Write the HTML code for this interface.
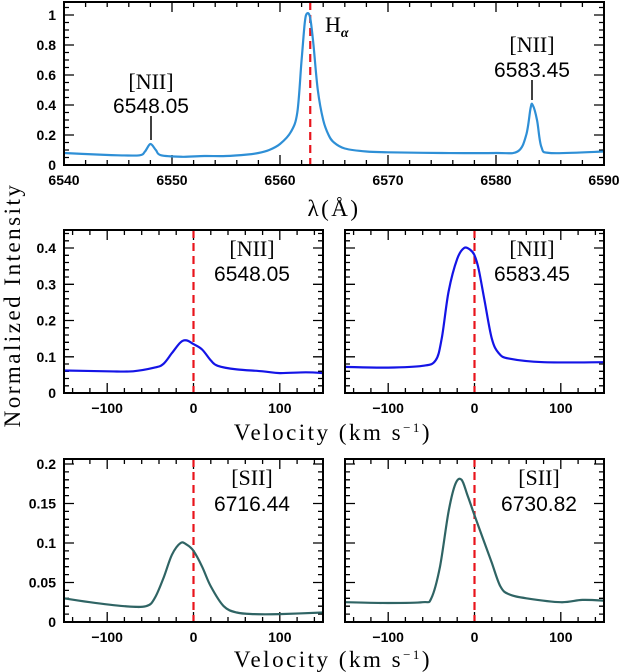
<!DOCTYPE html>
<html><head><meta charset="utf-8"><style>
body{margin:0;background:#fff;}
svg{display:block;}
.tk{font-family:"Liberation Sans",sans-serif;font-weight:bold;font-size:14px;}
.an{font-family:"Liberation Sans",sans-serif;font-size:21px;}
.sr{font-family:"Liberation Serif",serif;font-size:22px;}
.ax{font-family:"Liberation Serif",serif;font-size:23px;letter-spacing:2.5px;}
</style></head><body>
<svg id="fig" width="623" height="672" xmlns="http://www.w3.org/2000/svg"></svg>
<script>
const topWave=[6540,6543,6545,6547,6547.5,6548,6548.5,6549,6551,6553,6555,6557,6558,6559,6560,6561,6561.6,6562,6562.3,6562.5,6562.8,6563.1,6563.5,6564,6564.5,6565,6566,6568,6570,6575,6580,6582,6582.8,6583.2,6583.4,6583.8,6584.2,6585,6590];
const topFlux=[0.08,0.07,0.065,0.065,0.09,0.14,0.1,0.065,0.055,0.06,0.06,0.07,0.08,0.1,0.14,0.22,0.35,0.7,0.95,1.01,0.98,0.8,0.5,0.3,0.2,0.15,0.11,0.09,0.085,0.08,0.08,0.09,0.2,0.38,0.40,0.3,0.12,0.08,0.09];
const velNII1=[-150,-100,-70,-45,-35,-25,-15,-8,0,10,20,28,50,80,100,130,150];
const fluxNII1=[0.062,0.06,0.06,0.07,0.08,0.11,0.14,0.145,0.135,0.12,0.09,0.075,0.065,0.06,0.055,0.057,0.055];
const velNII2=[-150,-100,-60,-45,-38,-30,-20,-12,-5,0,5,12,20,28,40,80,150];
const fluxNII2=[0.072,0.07,0.075,0.09,0.15,0.28,0.37,0.40,0.395,0.38,0.34,0.25,0.15,0.11,0.095,0.085,0.085];
const velSII1=[-150,-120,-80,-55,-45,-35,-25,-15,-8,0,10,20,35,50,70,100,150];
const fluxSII1=[0.03,0.025,0.02,0.02,0.03,0.055,0.085,0.1,0.098,0.09,0.07,0.045,0.02,0.012,0.01,0.01,0.012];
const velSII2=[-150,-100,-60,-50,-40,-30,-22,-15,-8,0,10,20,30,40,60,100,125,150];
const fluxSII2=[0.025,0.024,0.025,0.03,0.07,0.14,0.175,0.18,0.16,0.135,0.105,0.075,0.045,0.035,0.03,0.025,0.028,0.027];
const topXTicks=[6540,6550,6560,6570,6580,6590];
const topYTicks=[0,0.2,0.4,0.6,0.8,1];
const topYLabels=["0","0.2","0.4","0.6","0.8","1"];
const velTicks=[-100,0,100];
const velLabels=["\u2212100","0","100"];
const midYTicks=[0,0.1,0.2,0.3,0.4];
const midYLabels=["0","0.1","0.2","0.3","0.4"];
const botYTicks=[0,0.05,0.1,0.15,0.2];
const botYLabels=["0","0.05","0.1","0.15","0.2"];

const svg=document.getElementById('fig');
const NS="http://www.w3.org/2000/svg";
function mk(tag,attrs,parent){const e=document.createElementNS(NS,tag);for(const k in attrs)e.setAttribute(k,attrs[k]);(parent||svg).appendChild(e);return e;}
function txt(s,x,y,cls,parent,anchor){const t=mk('text',{x:x,y:y,class:cls,'text-anchor':anchor||'middle'},parent);t.textContent=s;return t;}
function smooth(P){
  let d='M'+P[0][0].toFixed(1)+','+P[0][1].toFixed(1);
  for(let i=0;i<P.length-1;i++){
    const p0=P[i-1]||P[i],p1=P[i],p2=P[i+1],p3=P[i+2]||P[i+1];
    let c1x=p1[0]+(p2[0]-p0[0])/6,c1y=p1[1]+(p2[1]-p0[1])/6;
    let c2x=p2[0]-(p3[0]-p1[0])/6,c2y=p2[1]-(p3[1]-p1[1])/6;
    c1x=Math.min(Math.max(c1x,p1[0]),p2[0]);c2x=Math.min(Math.max(c2x,p1[0]),p2[0]);
    d+=`C${c1x.toFixed(1)},${c1y.toFixed(1)} ${c2x.toFixed(1)},${c2y.toFixed(1)} ${p2[0].toFixed(1)},${p2[1].toFixed(1)}`;
  }
  return d;
}

function panel(name,box,xr,yr,xMaj,xMin,yMaj,yMin,xT,xL,yT,yL,xs,ys,color,refX){
  const g=mk('g',{});
  
  
  const sx=v=>box.x0+(v-xr[0])/(xr[1]-xr[0])*(box.x1-box.x0);
  const sy=v=>box.y1-(v-yr[0])/(yr[1]-yr[0])*(box.y1-box.y0);
  let d='';
  const eps=1e-9;
  for(let v=Math.ceil(xr[0]/xMin-eps)*xMin;v<=xr[1]+eps;v+=xMin){
    const maj=Math.abs(v/xMaj-Math.round(v/xMaj))<1e-6;const L=maj?10:5;const X=sx(v).toFixed(1);
    d+=`M${X},${box.y1}v${-L}M${X},${box.y0}v${L}`;}
  for(let v=Math.ceil(yr[0]/yMin-eps)*yMin;v<=yr[1]+eps;v+=yMin){
    const maj=Math.abs(v/yMaj-Math.round(v/yMaj))<1e-6;const L=maj?10:5;const Y=sy(v).toFixed(1);
    d+=`M${box.x0},${Y}h${L}M${box.x1},${Y}h${-L}`;}
  const ticks=mk('path',{d:d,stroke:'#000','stroke-width':1.3,fill:'none'},g);
  
  
  xT.forEach((v,i)=>{const t=txt(xL[i],sx(v),box.y1+20,'tk',g);});
  if(yL){yT.forEach((v,i)=>{const t=txt(yL[i],box.x0-8,sy(v)+5,'tk',g,'end');});}
  const clip='c'+name;const cp=mk('clipPath',{id:clip},g);mk('rect',{x:box.x0,y:box.y0,width:box.x1-box.x0,height:box.y1-box.y0},cp);
  const ref=mk('line',{x1:sx(refX),x2:sx(refX),y1:box.y0,y2:box.y1,stroke:'#e8141c','stroke-width':2.2,'stroke-dasharray':'8,5'},g);
  
  
  const pts=xs.map((v,i)=>[sx(v),sy(ys[i])]);
  const line=mk('path',{d:smooth(pts),stroke:color,'stroke-width':2.2,fill:'none','stroke-linejoin':'round','clip-path':'url(#'+clip+')'},g);
  
  
  const fr=mk('rect',{x:box.x0,y:box.y0,width:box.x1-box.x0,height:box.y1-box.y0,fill:'none',stroke:'#000','stroke-width':2},g);
  
  
  return g;
}
panel('halpha-panel',{x0:64,x1:604,y0:2,y1:165},[6540,6590],[0,1.0867],10,2,0.2,0.05,topXTicks,topXTicks.map(String),topYTicks,topYLabels,topWave,topFlux,'#2e8fd6',6562.8);
panel('nii-6548-panel',{x0:64,x1:323,y0:230,y1:393},[-150,150],[0,0.4497],100,20,0.1,0.02,velTicks,velLabels,midYTicks,midYLabels,velNII1,fluxNII1,'#1414e6',0);
panel('nii-6583-panel',{x0:345,x1:604,y0:230,y1:393},[-150,150],[0,0.4497],100,20,0.1,0.02,velTicks,velLabels,midYTicks,null,velNII2,fluxNII2,'#1414e6',0);
panel('sii-6716-panel',{x0:64,x1:323,y0:459,y1:622},[-150,150],[0,0.2063],100,20,0.05,0.01,velTicks,velLabels,botYTicks,botYLabels,velSII1,fluxSII1,'#2f6464',0);
panel('sii-6731-panel',{x0:345,x1:604,y0:459,y1:622},[-150,150],[0,0.2063],100,20,0.05,0.01,velTicks,velLabels,botYTicks,null,velSII2,fluxSII2,'#2f6464',0);

function label(a,b,x,y1,y2,name){
  const t1=txt(a,x,y1,'sr');
  const t2=txt(b,x,y2,'an');
}
label('[NII]','6548.05',151,89,113,'top-nii-6548');
label('[NII]','6583.45',532,52,77,'top-nii-6583');
let l1=mk('line',{x1:151,x2:151,y1:116,y2:140,stroke:'#000','stroke-width':1.5});


let l2=mk('line',{x1:532,x2:532,y1:80,y2:100,stroke:'#000','stroke-width':1.5});


let ha=mk('text',{x:325,y:32,class:'sr','text-anchor':'start'});ha.innerHTML='H<tspan font-size="14" dy="5" font-style="italic" font-weight="bold">α</tspan>';


label('[NII]','6548.05',252,256,281,'mid-nii-6548');
label('[NII]','6583.45',532,256,281,'mid-nii-6583');
label('[SII]','6716.44',252,485,511,'sii-6716');
label('[SII]','6730.82',539,485,511,'sii-6731');
let xt=txt('λ(Å)',334,216,'ax');
let v1=mk('text',{x:333,y:440,class:'ax','text-anchor':'middle'});v1.innerHTML='Velocity (km s<tspan font-size="13" dy="-8">−1</tspan><tspan dy="8">)</tspan>';

let v2=mk('text',{x:333,y:667,class:'ax','text-anchor':'middle'});v2.innerHTML='Velocity (km s<tspan font-size="13" dy="-8">−1</tspan><tspan dy="8">)</tspan>';

let yt=mk('text',{x:0,y:0,class:'ax','text-anchor':'middle',transform:'translate(20,305) rotate(-90)'});yt.textContent='Normalized Intensity';

</script>
</body></html>
